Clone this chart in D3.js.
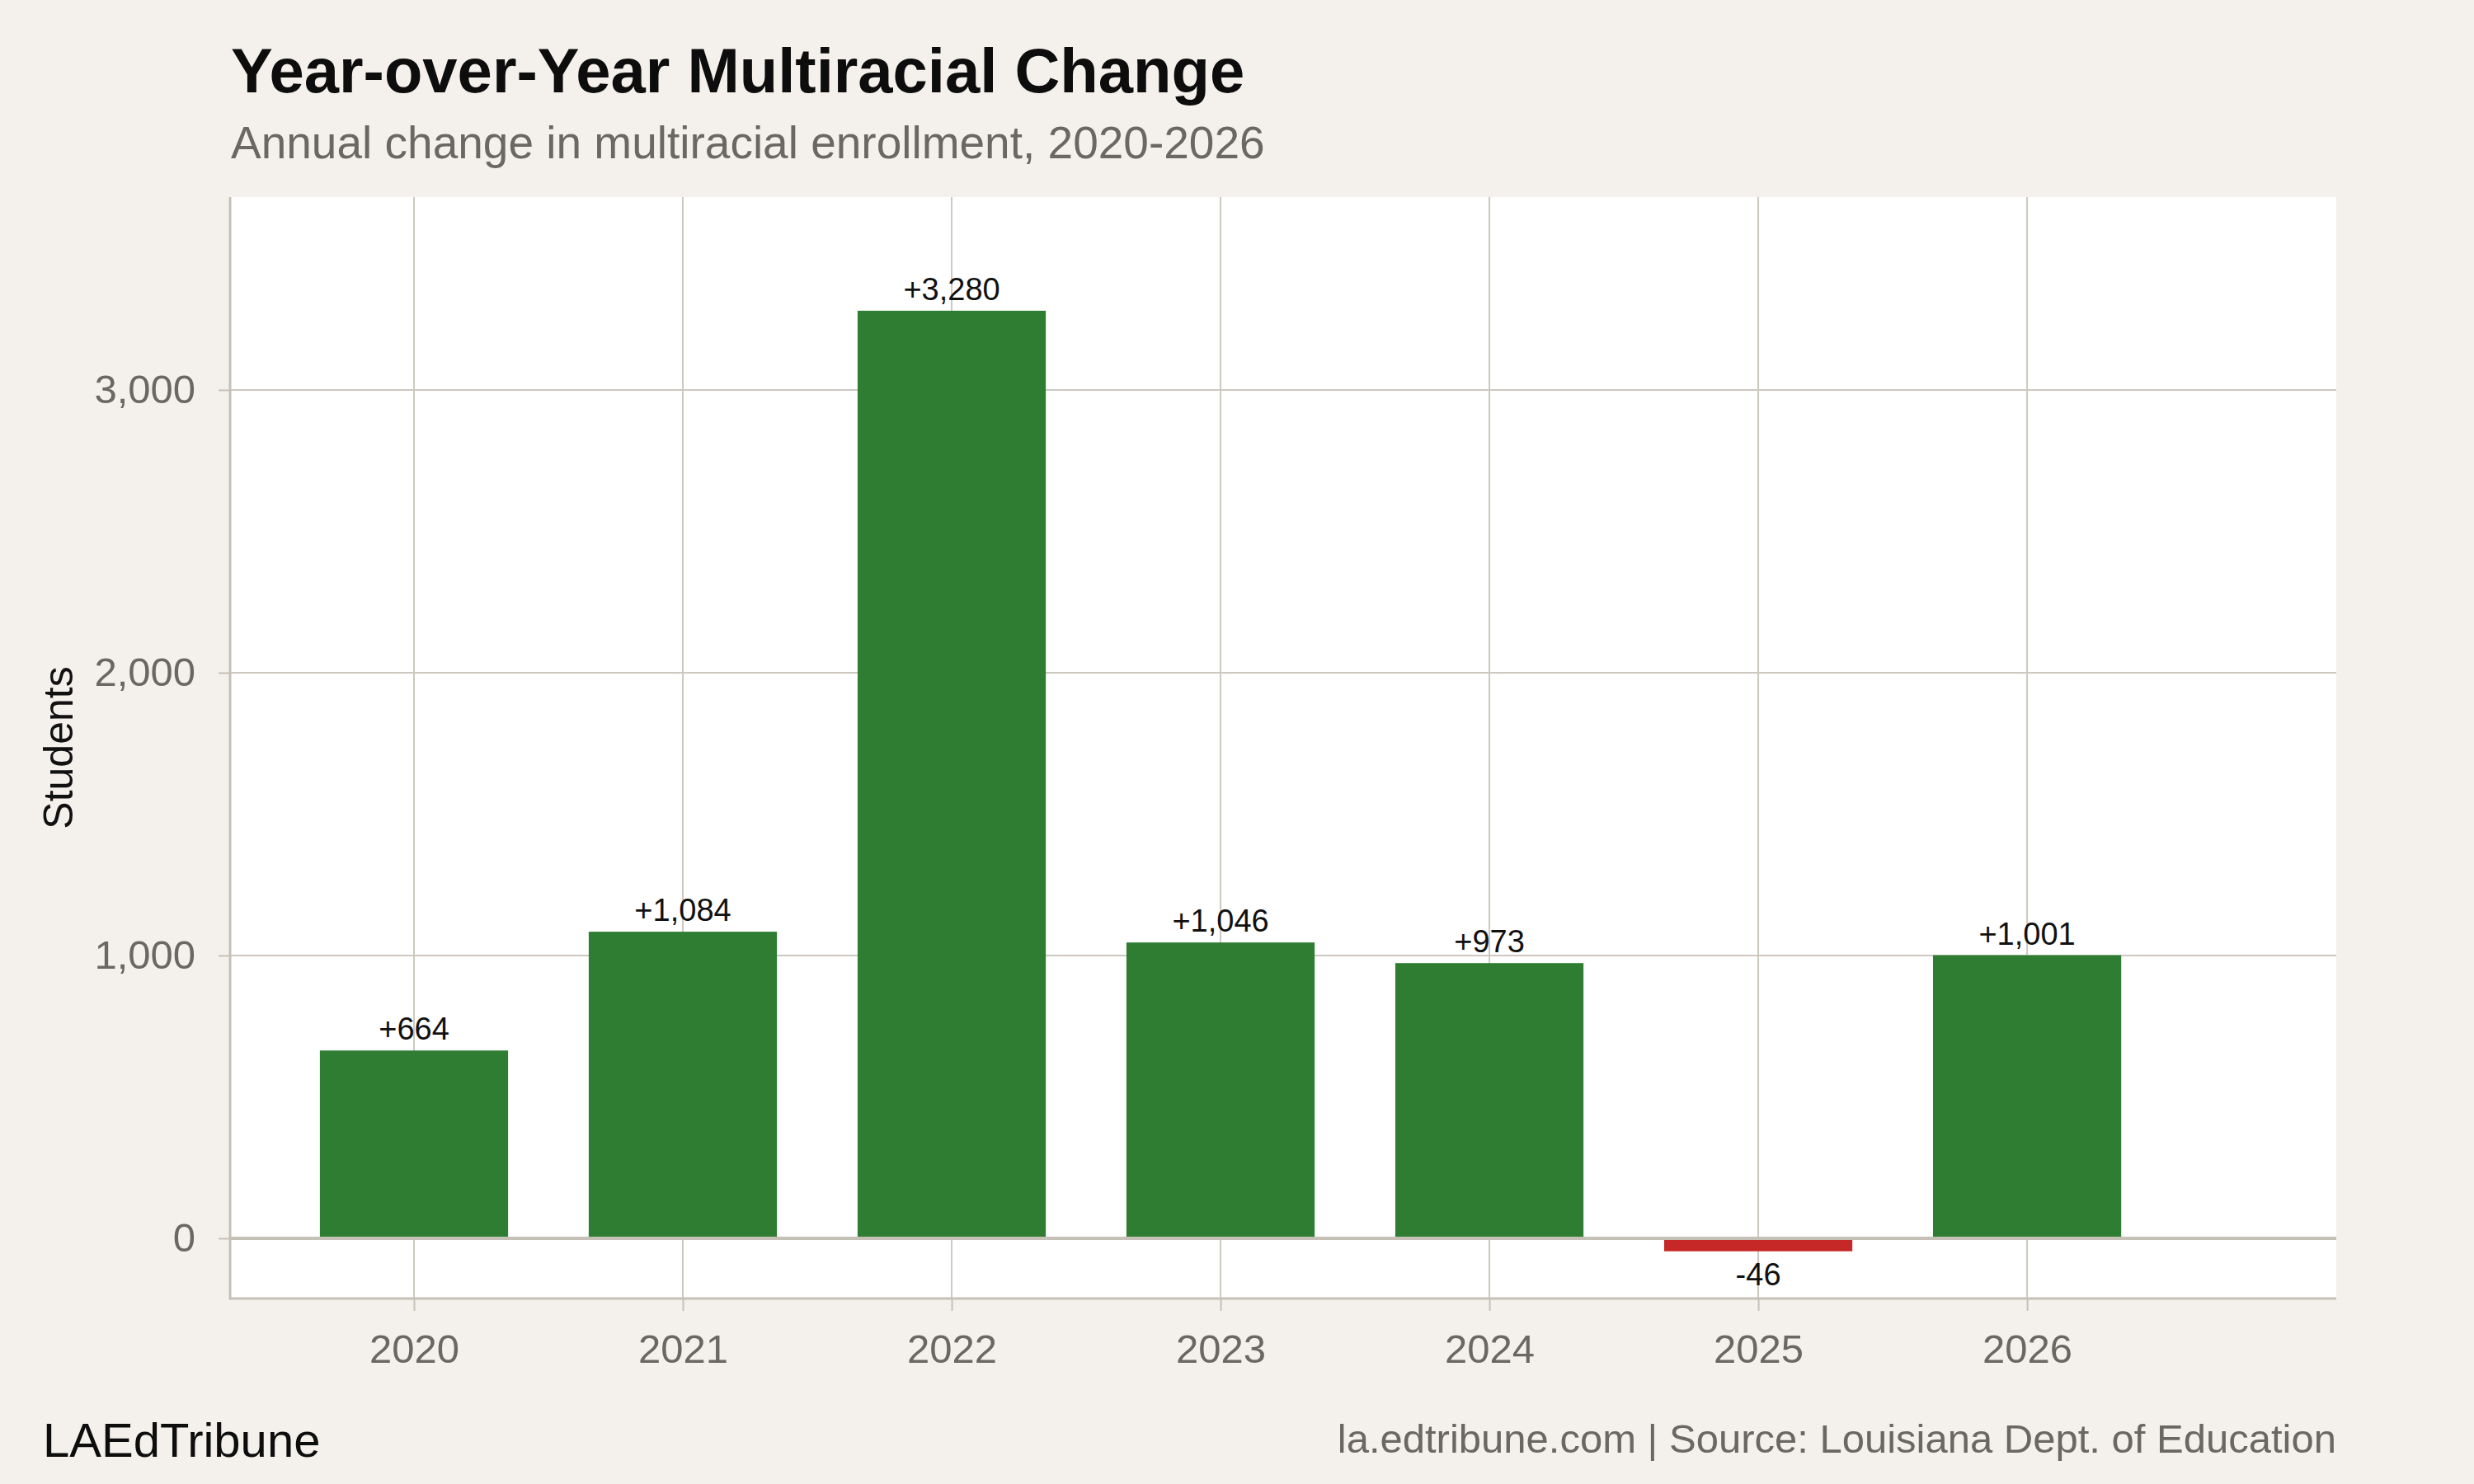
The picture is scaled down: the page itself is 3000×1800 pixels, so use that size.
<!DOCTYPE html>
<meta charset="utf-8">
<html>
<head>
    <script src="https://d3js.org/d3.v7.min.js"></script>
    <style>
        body { margin: 0; background: #f4f1ec; }
        svg text { font-family: "Liberation Sans", Arial, sans-serif; }
    </style>
</head>
<body>
<div id="chart"></div>
<script>
    // data
    const years = [2020, 2021, 2022, 2023, 2024, 2025, 2026];
    const changes = [664, 1084, 3280, 1046, 973, -46, 1001];
    const yTicks = [0, 1000, 2000, 3000];

    const W = 3000, H = 1800;
    // panel box
    const panelL = 279, panelR = 2833, panelT = 239, panelB = 1575;

    const gridColor = "#cdc9c0";
    const axisColor = "#c6c1b7";
    const tickText = "#6b6862";

    const svg = d3.select("#chart")
        .append("svg")
        .attr("width", W)
        .attr("height", H);

    svg.append("rect")
        .attr("width", W).attr("height", H)
        .attr("fill", "#f4f1ec");

    svg.append("rect")
        .attr("x", panelL).attr("y", panelT)
        .attr("width", panelR - panelL).attr("height", panelB - panelT)
        .attr("fill", "#ffffff");

    // scales
    const x = d3.scaleLinear()
        .domain([2019.316, 2027.15])
        .range([panelL, panelR]);

    const y = d3.scaleLinear()
        .domain([-213, 3682])
        .range([panelB, panelT]);

    const barW = x(2020.35) - x(2019.65);

    // grid
    svg.append("g")
        .selectAll("line")
        .data(yTicks)
        .join("line")
        .attr("x1", panelL).attr("x2", panelR)
        .attr("y1", d => y(d)).attr("y2", d => y(d))
        .attr("stroke", gridColor)
        .attr("stroke-width", 2);

    svg.append("g")
        .selectAll("line")
        .data(years)
        .join("line")
        .attr("x1", d => x(d)).attr("x2", d => x(d))
        .attr("y1", panelT).attr("y2", panelB)
        .attr("stroke", gridColor)
        .attr("stroke-width", 2);

    // bars
    const rows = years.map((yr, i) => ({ year: yr, value: changes[i] }));

    svg.append("g")
        .selectAll("rect")
        .data(rows)
        .join("rect")
        .attr("x", d => x(d.year) - barW / 2)
        .attr("width", barW)
        .attr("y", d => y(Math.max(0, d.value)))
        .attr("height", d => Math.abs(y(d.value) - y(0)))
        .attr("fill", d => d.value >= 0 ? "#2e7d32" : "#c62828");

    // zero line on top of bars
    svg.append("line")
        .attr("x1", panelL).attr("x2", panelR)
        .attr("y1", y(0)).attr("y2", y(0))
        .attr("stroke", axisColor)
        .attr("stroke-width", 4);

    // value labels (plain hyphen for negatives)
    const fmt = d3.format(",");
    svg.append("g")
        .selectAll("text")
        .data(rows)
        .join("text")
        .attr("x", d => x(d.year))
        .attr("y", d => d.value >= 0 ? y(d.value) - 13 : y(d.value) + 41)
        .attr("text-anchor", "middle")
        .attr("font-size", 38)
        .attr("fill", "#111")
        .text(d => (d.value > 0 ? "+" : "-") + fmt(Math.abs(d.value)));

    // axes
    const yAxis = svg.append("g")
        .attr("transform", `translate(${panelL},0)`)
        .call(d3.axisLeft(y).tickValues(yTicks).tickFormat(d3.format(",")).tickSize(14).tickPadding(28));
    const xAxis = svg.append("g")
        .attr("transform", `translate(0,${panelB})`)
        .call(d3.axisBottom(x).tickValues(years).tickFormat(d3.format("d")).tickSize(15).tickPadding(28));

    [yAxis, xAxis].forEach(g => {
        g.select(".domain").remove();
        g.selectAll(".tick line").attr("stroke", axisColor).attr("stroke-width", 2);
        g.selectAll(".tick text").attr("fill", tickText).attr("font-size", 49)
            .attr("font-family", "Liberation Sans, Arial, sans-serif");
    });
    xAxis.selectAll(".tick text").attr("dy", "0.71em");

    // axis lines
    svg.append("line")
        .attr("x1", panelL).attr("x2", panelL)
        .attr("y1", panelT).attr("y2", panelB + 1.5)
        .attr("stroke", axisColor).attr("stroke-width", 3);
    svg.append("line")
        .attr("x1", panelL).attr("x2", panelR)
        .attr("y1", panelB).attr("y2", panelB)
        .attr("stroke", axisColor).attr("stroke-width", 3);

    // y title
    svg.append("text")
        .attr("transform", `translate(88,${(panelT + panelB) / 2}) rotate(-90)`)
        .attr("text-anchor", "middle")
        .attr("font-size", 50)
        .attr("fill", "#111")
        .text("Students");

    // titles
    svg.append("text")
        .attr("x", 280).attr("y", 112)
        .attr("font-size", 76)
        .attr("font-weight", "bold")
        .attr("fill", "#0d0d0d")
        .text("Year-over-Year Multiracial Change");

    svg.append("text")
        .attr("x", 280).attr("y", 192)
        .attr("font-size", 55)
        .attr("fill", "#6b6862")
        .text("Annual change in multiracial enrollment, 2020-2026");

    // footer
    svg.append("text")
        .attr("x", 52).attr("y", 1767)
        .attr("font-size", 58)
        .attr("fill", "#0d0d0d")
        .text("LAEdTribune");

    svg.append("text")
        .attr("x", panelR).attr("y", 1762)
        .attr("text-anchor", "end")
        .attr("font-size", 49)
        .attr("fill", "#6b6862")
        .text("la.edtribune.com | Source: Louisiana Dept. of Education");
</script>
</body>
</html>
